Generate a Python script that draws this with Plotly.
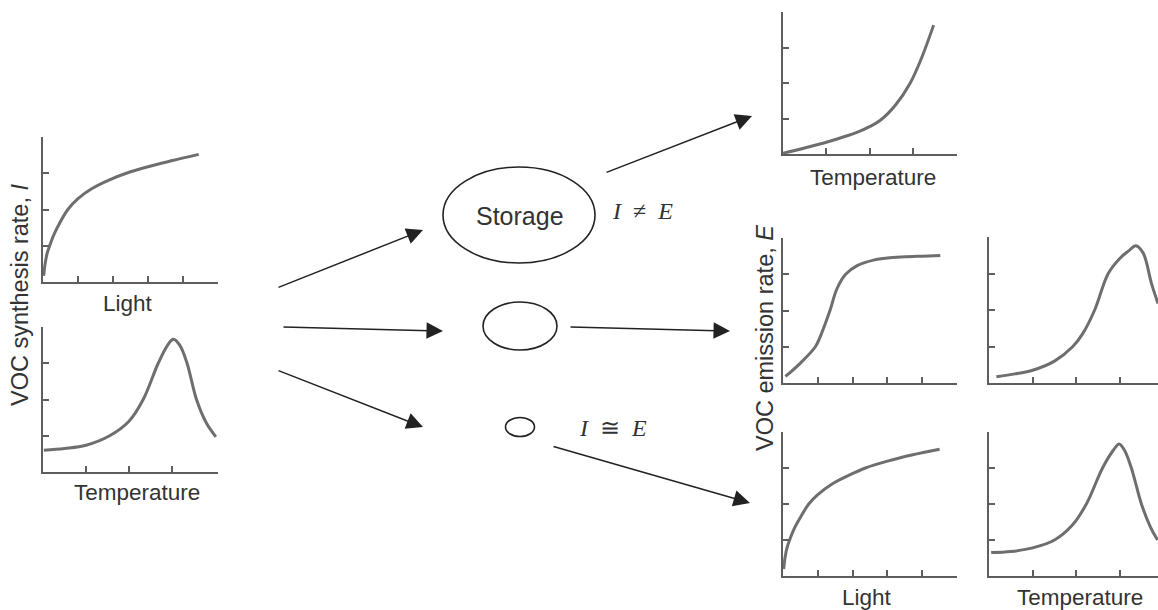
import plotly.graph_objects as go

W, H = 1158, 610

# ---- curve data ----
synth_light_x = [0.02, 0.06, 0.12, 0.19, 0.3, 0.45, 0.71, 1.0, 1.4, 1.9, 2.38, 3.0, 3.7, 4.45]
synth_light_y = [0.17, 0.5, 0.8, 1.0, 1.28, 1.58, 2.0, 2.3, 2.58, 2.82, 3.0, 3.18, 3.35, 3.52]

synth_temp_x = [0.02, 0.5, 1.0, 1.55, 2.0, 2.33, 2.68, 2.9, 3.03, 3.18, 3.35, 3.57, 3.8, 4.02]
synth_temp_y = [0.6, 0.65, 0.74, 1.0, 1.4, 2.0, 3.0, 3.5, 3.66, 3.5, 3.0, 2.0, 1.35, 0.97]

store_temp_x = [0.0, 0.5, 1.0, 1.5, 1.75, 2.0, 2.25, 2.6, 2.94, 3.2, 3.48]
store_temp_y = [0.02, 0.17, 0.33, 0.52, 0.63, 0.77, 0.95, 1.38, 2.0, 2.7, 3.63]

mid_light_x = [0.07, 0.5, 0.93, 1.08, 1.2, 1.35, 1.55, 1.8, 2.13, 2.6, 3.0, 3.5, 4.0, 4.52]
mid_light_y = [0.18, 0.55, 1.0, 1.3, 1.6, 2.0, 2.6, 3.0, 3.24, 3.39, 3.45, 3.48, 3.5, 3.52]

mid_temp_x = [0.17, 0.6, 1.0, 1.5, 1.92, 2.15, 2.42, 2.73, 3.0, 3.2, 3.36, 3.53, 3.72, 3.87]
mid_temp_y = [0.17, 0.25, 0.35, 0.6, 1.0, 1.36, 2.0, 3.0, 3.42, 3.62, 3.76, 3.56, 2.73, 2.18]

emit_light_x = [0.02, 0.06, 0.12, 0.19, 0.3, 0.46, 0.74, 1.0, 1.4, 1.9, 2.37, 3.0, 3.7, 4.5]
emit_light_y = [0.19, 0.52, 0.8, 1.0, 1.27, 1.56, 2.0, 2.26, 2.55, 2.8, 3.0, 3.19, 3.36, 3.52]

emit_temp_x = [0.05, 0.5, 1.0, 1.5, 1.9, 2.23, 2.6, 2.85, 2.98, 3.1, 3.26, 3.49, 3.7, 3.86]
emit_temp_y = [0.65, 0.68, 0.78, 1.0, 1.4, 2.0, 3.0, 3.5, 3.67, 3.5, 3.0, 2.0, 1.35, 1.0]

light_ticks = [1, 2, 3, 4]
temp_ticks = [1, 2, 3]
rate_ticks = [1, 2, 3]

# ---- panel placement (pixels: left, right, top, bottom, x range max) ----
panels = [
    (synth_light_x, synth_light_y, (43, 218, 137, 282), 5.0, light_ticks),
    (synth_temp_x, synth_temp_y, (43, 218, 327, 472), 4.07, temp_ticks),
    (store_temp_x, store_temp_y, (783, 957, 12, 154), 4.02, temp_ticks),
    (mid_light_x, mid_light_y, (783, 957, 238, 383), 5.0, light_ticks),
    (mid_temp_x, mid_temp_y, (989, 1158, 237, 383), 3.87, temp_ticks),
    (emit_light_x, emit_light_y, (783, 957, 432, 576), 5.0, light_ticks),
    (emit_temp_x, emit_temp_y, (989, 1158, 432, 576), 3.87, temp_ticks),
]

AX = "#5e5e5e"
fig = go.Figure()
layout = dict(width=W, height=H, autosize=False, margin=dict(l=0, r=0, t=0, b=0),
              paper_bgcolor="white", plot_bgcolor="rgba(0,0,0,0)", showlegend=False)

for i, (xs, ys, (l, r, t, b), xmax, xt) in enumerate(panels, start=1):
    sx = "" if i == 1 else str(i)
    fig.add_trace(go.Scatter(x=xs, y=ys, mode="lines", xaxis="x" + sx, yaxis="y" + sx,
                             line=dict(color="#6e6e6e", width=3, shape="spline", smoothing=1.0),
                             hoverinfo="skip"))
    common = dict(showline=True, linecolor=AX, linewidth=2, ticks="inside", ticklen=6,
                  tickcolor=AX, tickwidth=2, showticklabels=False, showgrid=False,
                  zeroline=False, fixedrange=True)
    layout["xaxis" + sx] = dict(domain=[l / W, r / W], range=[0, xmax], tickvals=xt,
                                anchor="y" + sx, **common)
    layout["yaxis" + sx] = dict(domain=[1 - b / H, 1 - t / H], range=[0, 4.0], tickvals=rate_ticks,
                                anchor="x" + sx, **common)

# overlay pixel axis for diagram elements
layout["xaxis8"] = dict(domain=[0, 1], range=[0, W], visible=False, anchor="y8", fixedrange=True)
layout["yaxis8"] = dict(domain=[0, 1], range=[H, 0], visible=False, anchor="x8", fixedrange=True)
fig.add_trace(go.Scatter(x=[None], y=[None], xaxis="x8", yaxis="y8", hoverinfo="skip"))

fig.update_layout(**layout)

# ellipses
ellipses = [(519, 215, 76, 48), (520, 326, 37, 24), (520, 427, 14.5, 9.5)]
for cx, cy, rx, ry in ellipses:
    fig.add_shape(type="circle", xref="x8", yref="y8", x0=cx - rx, x1=cx + rx,
                  y0=cy - ry, y1=cy + ry, line=dict(color="#222222", width=1.6))

# arrows (tail -> tip)
arrows = [
    ((277, 288), (423, 230)),
    ((282, 327), (443, 331)),
    ((277, 370), (423, 427)),
    ((605, 173), (752, 116)),
    ((569, 327), (730, 331)),
    ((552, 446), (750, 503)),
]
for (tx, ty), (hx, hy) in arrows:
    fig.add_annotation(x=hx, y=hy, ax=tx, ay=ty, xref="x8", yref="y8", axref="x8", ayref="y8",
                       showarrow=True, arrowhead=2, arrowsize=2.2, arrowwidth=1.5,
                       arrowcolor="#222222", text="")

SANS = "Liberation Sans, Arial, sans-serif"
TXT = "#333333"
labels = [
    ("Light", 128, 303), ("Temperature", 137, 492), ("Temperature", 873, 177),
    ("Light", 867, 597), ("Temperature", 1080, 597),
]
for txt, x, y in labels:
    fig.add_annotation(x=x, y=y, xref="x8", yref="y8", text=txt, showarrow=False,
                       font=dict(family=SANS, size=22.5, color=TXT))

fig.add_annotation(x=20, y=295, xref="x8", yref="y8", text="VOC synthesis rate, <i>I</i>",
                   textangle=-90, showarrow=False, font=dict(family=SANS, size=23.5, color=TXT))
fig.add_annotation(x=765, y=338, xref="x8", yref="y8", text="VOC emission rate, <i>E</i>",
                   textangle=-90, showarrow=False, font=dict(family=SANS, size=23.5, color=TXT))

fig.add_annotation(x=520, y=216, xref="x8", yref="y8", text="Storage", showarrow=False,
                   font=dict(family=SANS, size=25, color=TXT))

SERIF = "Liberation Serif, Times New Roman, serif"
fig.add_annotation(x=642, y=211, xref="x8", yref="y8", text="<i>I</i>\u00a0\u00a0\u2260\u00a0\u00a0<i>E</i>",
                   showarrow=False, font=dict(family=SERIF, size=24, color=TXT))
fig.add_annotation(x=613, y=428, xref="x8", yref="y8", text="<i>I</i>\u00a0\u00a0\u2245\u00a0\u00a0<i>E</i>",
                   showarrow=False, font=dict(family=SERIF, size=24, color=TXT))

fig.write_html("out.html", config={"displayModeBar": False},
               post_script="document.body.style.margin='0px';")
